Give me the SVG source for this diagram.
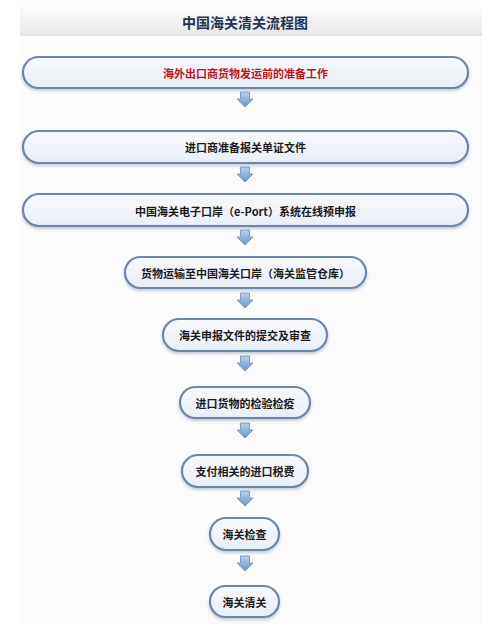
<svg xmlns="http://www.w3.org/2000/svg" width="500" height="624" viewBox="0 0 500 624">
<defs>
<linearGradient id="tb" x1="0" y1="0" x2="0" y2="1"><stop offset="0" stop-color="#fbfbfb"/><stop offset="1" stop-color="#e9e9e9"/></linearGradient>
<linearGradient id="nf" x1="0" y1="0" x2="0" y2="1"><stop offset="0" stop-color="#f7f9fc"/><stop offset="1" stop-color="#e9eef6"/></linearGradient>
<linearGradient id="af" x1="0" y1="0" x2="0" y2="1"><stop offset="0" stop-color="#b8cfea"/><stop offset="1" stop-color="#6f97c6"/></linearGradient>
<filter id="sh" x="-10%" y="-30%" width="120%" height="170%"><feDropShadow dx="0" dy="2" stdDeviation="1.5" flood-color="#8095b0" flood-opacity="0.45"/></filter>
<path id="arr" d="M-4.5 0 H4.5 V7 H8 L0 15 L-8 7 H-4.5 Z"/>
</defs>
<style>
.n{fill:url(#nf);stroke:#6d87a6;stroke-width:2.2;filter:url(#sh)}
.t{font-family:"Noto Sans CJK SC","Noto Sans",sans-serif;font-size:11px;font-weight:bold;fill:#1a1a1a;text-anchor:middle;dominant-baseline:central}
.a{fill:url(#af);stroke:#6a8db8;stroke-width:0.8}
</style>
<rect width="500" height="624" fill="#ffffff"/>
<rect x="20" y="35" width="462" height="589" fill="#fbfbfb"/>
<g id="title">
<rect x="20" y="7" width="462" height="28" fill="url(#tb)"/>
<line x1="20" y1="35" x2="482" y2="35" stroke="#d4d4d4" stroke-width="1"/>
<text x="245" y="22" font-family="Noto Sans CJK SC,sans-serif" font-size="14" font-weight="bold" fill="#1e3553" text-anchor="middle" dominant-baseline="central">中国海关清关流程图</text>
</g>
<g id="connectors">
<use href="#arr" class="a" x="245" y="92"/>
<use href="#arr" class="a" x="245" y="167"/>
<use href="#arr" class="a" x="245" y="230"/>
<use href="#arr" class="a" x="245" y="293"/>
<use href="#arr" class="a" x="245" y="356"/>
<use href="#arr" class="a" x="245" y="423"/>
<use href="#arr" class="a" x="245" y="491"/>
<use href="#arr" class="a" x="245" y="556"/>
</g>
<g id="n1"><rect class="n" x="23" y="57" width="445" height="31" rx="15.5"/><text class="t" x="245.5" y="72.5" style="fill:#c0121c">海外出口商货物发运前的准备工作</text></g>
<g id="n2"><rect class="n" x="23" y="131" width="445" height="32" rx="16"/><text class="t" x="245.5" y="147">进口商准备报关单证文件</text></g>
<g id="n3"><rect class="n" x="23" y="194" width="445" height="32" rx="16"/><text class="t" x="245.5" y="211">中国海关电子口岸（e-Port）系统在线预申报</text></g>
<g id="n4"><rect class="n" x="125" y="257" width="241" height="31" rx="15.5"/><text class="t" x="245.5" y="272.5">货物运输至中国海关口岸（海关监管仓库）</text></g>
<g id="n5"><rect class="n" x="163" y="319" width="164" height="32" rx="16"/><text class="t" x="245" y="335">海关申报文件的提交及审查</text></g>
<g id="n6"><rect class="n" x="180" y="387" width="130" height="31" rx="15.5"/><text class="t" x="245" y="402.5">进口货物的检验检疫</text></g>
<g id="n7"><rect class="n" x="182" y="455" width="126" height="32" rx="16"/><text class="t" x="245" y="471">支付相关的进口税费</text></g>
<g id="n8"><rect class="n" x="210" y="518" width="69" height="32" rx="16"/><text class="t" x="244.5" y="534">海关检查</text></g>
<g id="n9"><rect class="n" x="210" y="586" width="69" height="31" rx="15.5"/><text class="t" x="244.5" y="601.5">海关清关</text></g>
</svg>
